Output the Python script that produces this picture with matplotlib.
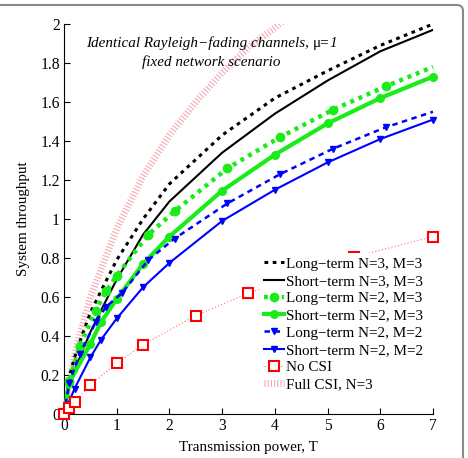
import matplotlib
matplotlib.use("Agg")
import matplotlib.pyplot as plt
from matplotlib.patches import FancyBboxPatch

plt.rcParams['font.family'] = ['Liberation Serif', 'DejaVu Serif']

# ---- data ----
T_ln33 = [0, 0.1, 0.2, 0.3, 0.5, 0.7, 1.0, 1.5, 2.0, 3.0, 4.0, 5.0, 6.0, 7.0]
y_ln33 = [0, 0.19, 0.29, 0.37, 0.52, 0.63, 0.79, 1.00, 1.18, 1.43, 1.62, 1.76, 1.89, 2.00]

T_st33 = [0, 0.1, 0.2, 0.3, 0.5, 0.7, 1.0, 1.5, 2.0, 3.0, 4.0, 5.0, 6.0, 7.0]
y_st33 = [0, 0.15, 0.22, 0.29, 0.42, 0.53, 0.69, 0.92, 1.09, 1.34, 1.54, 1.71, 1.86, 1.97]

T_ln23 = [0, 0.1, 0.3, 0.6, 0.8, 1.0, 1.6, 2.1, 3.1, 4.1, 5.1, 6.1, 7.0]
y_ln23 = [0, 0.17, 0.35, 0.53, 0.63, 0.71, 0.92, 1.04, 1.26, 1.42, 1.56, 1.68, 1.78]

T_st23 = [0, 0.1, 0.5, 0.7, 1.0, 1.5, 2.0, 3.0, 4.0, 5.0, 6.0, 7.0]
y_st23 = [0, 0.16, 0.36, 0.47, 0.59, 0.77, 0.91, 1.145, 1.33, 1.49, 1.62, 1.73]

T_ln22 = [0, 0.1, 0.3, 0.6, 0.8, 1.1, 1.6, 2.1, 3.1, 4.1, 5.1, 6.1, 7.0]
y_ln22 = [0, 0.16, 0.31, 0.47, 0.55, 0.62, 0.79, 0.90, 1.08, 1.23, 1.36, 1.47, 1.55]

T_st22 = [0, 0.2, 0.5, 0.7, 1.0, 1.5, 2.0, 3.0, 4.0, 5.0, 6.0, 7.0]
y_st22 = [0, 0.13, 0.29, 0.38, 0.49, 0.65, 0.775, 0.99, 1.15, 1.29, 1.41, 1.51]

T_nocsi = [0, 0.1, 0.2, 0.5, 1.0, 1.5, 2.5, 3.5, 5.5, 7.0]
y_nocsi = [0, 0.03, 0.062, 0.15, 0.26, 0.355, 0.505, 0.62, 0.805, 0.91]

T_full = [0, 0.1, 0.25, 0.5, 1.0, 1.5, 2.0, 2.5, 3.0, 3.5, 4.0, 4.3]
y_full = [0, 0.17, 0.36, 0.60, 0.95, 1.22, 1.43, 1.60, 1.75, 1.88, 1.98, 2.05]

labels = ['Long\u2212term N=3, M=3', 'Short\u2212term N=3, M=3',
          'Long\u2212term N=2, M=3', 'Short\u2212term N=2, M=3',
          'Long\u2212term N=2, M=2', 'Short\u2212term N=2, M=2',
          'No CSI', 'Full CSI, N=3']

xticks = [0, 1, 2, 3, 4, 5, 6, 7]
yticks = [0, 0.2, 0.4, 0.6, 0.8, 1.0, 1.2, 1.4, 1.6, 1.8, 2.0]
yticklabels = ['0', '0.2', '0.4', '0.6', '0.8', '1', '1.2', '1.4', '1.6', '1.8', '2']

# ---- figure ----
fig = plt.figure(figsize=(4.68, 4.58), dpi=100)
border = FancyBboxPatch((-20, -20), 483, 473, boxstyle="round,pad=0,rounding_size=6",
                        transform=None, facecolor='white', edgecolor='#8a8a8a', lw=1.5, zorder=-10)
fig.patches.append(border)

ax = fig.add_axes([64/468, 1 - 414/458, (433-64)/468, (414-24)/458])
ax.set_facecolor('none')

fs = 10.9
tfs = 11.2
green = '#1aec1a'
blue = '#0000ff'

h_full, = ax.plot(T_full, y_full, color='#f5a9b2', lw=5, linestyle=(0, (0.16, 0.3)),
                  solid_capstyle='butt', dash_capstyle='butt', zorder=1)
h_nocsi, = ax.plot(T_nocsi, y_nocsi, color='#ff7070', lw=0.8, linestyle=(0, (1, 2)),
                   marker='s', markersize=7.5, markerfacecolor='white', markeredgecolor='#ff0000',
                   markeredgewidth=1.5, clip_on=False, zorder=5)
h_ln33, = ax.plot(T_ln33, y_ln33, color='black', lw=2.2, linestyle=(0, (1.2, 1.5)), zorder=3)
h_st33, = ax.plot(T_st33, y_st33, color='black', lw=1.5, zorder=3)
h_ln23, = ax.plot(T_ln23, y_ln23, color=green, lw=3.2, linestyle=(0, (0.9, 1.1)),
                  marker='o', markersize=6, markevery=list(range(1, len(T_ln23) - 1)),
                  clip_on=False, zorder=3)
h_st23, = ax.plot(T_st23, y_st23, color=green, lw=3.0, marker='o', markersize=5.5,
                  markevery=list(range(1, len(T_st23))), clip_on=False, zorder=3)
h_ln22, = ax.plot(T_ln22, y_ln22, color=blue, lw=1.8, linestyle=(0, (2.2, 1.8)),
                  marker='v', markersize=5, markevery=list(range(1, len(T_ln22) - 1)),
                  clip_on=False, zorder=3)
h_st22, = ax.plot(T_st22, y_st22, color=blue, lw=1.5, marker='v', markersize=5,
                  markevery=list(range(0, len(T_st22))), clip_on=False, zorder=3)

ax.set_xlim(0, 7)
ax.set_ylim(0, 2)
ax.set_xticks(xticks)
ax.set_yticks(yticks)
ax.set_yticklabels(yticklabels)
ax.tick_params(direction='in', length=4, width=0.8, labelsize=tfs, pad=3)
for s in ['top', 'right']:
    ax.spines[s].set_visible(False)
for s in ['left', 'bottom']:
    ax.spines[s].set_linewidth(0.8)

ax.set_xlabel('Transmission power, T', fontsize=fs, labelpad=5)
ax.set_ylabel('System throughput', fontsize=fs, labelpad=7)

# title-like annotation inside the axes
t1 = ax.text(0.06, 0.942, 'Identical Rayleigh\u2212fading channels, ', transform=ax.transAxes,
             fontsize=fs, style='italic', ha='left', va='baseline')
t2 = ax.annotate('\u03bc=', xy=(1, 0), xycoords=t1, fontsize=fs, ha='left', va='bottom')
t3 = ax.annotate('1', xy=(1, 0), xycoords=t2, fontsize=fs, style='italic', ha='left', va='bottom')
ax.text(0.40, 0.892, 'fixed network scenario', transform=ax.transAxes,
        fontsize=fs, style='italic', ha='center', va='baseline')

handles = [h_ln33, h_st33, h_ln23, h_st23, h_ln22, h_st22, h_nocsi, h_full]
leg = ax.legend(handles, labels, loc='upper left', bbox_to_anchor=(0.531, 0.414),
                fontsize=fs, frameon=True, fancybox=False, edgecolor='none',
                facecolor='white', framealpha=1, numpoints=1, handlelength=1.3,
                handletextpad=0.15, labelspacing=0.24, borderpad=0.3, borderaxespad=0)
leg.set_zorder(10)

fig.savefig('out.png', dpi=100)
